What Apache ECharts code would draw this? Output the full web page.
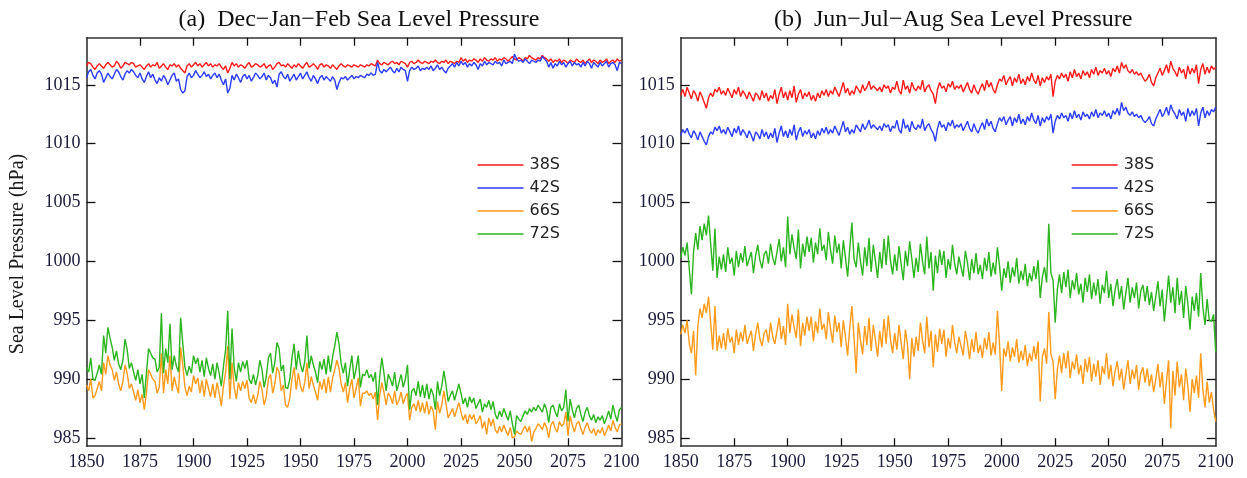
<!DOCTYPE html>
<html>
<head>
<meta charset="utf-8">
<script src="https://cdn.jsdelivr.net/npm/echarts@6/dist/echarts.min.js"></script>
<style>html,body{margin:0;padding:0;background:#fff}#c{width:1247px;height:478px}</style>
</head>
<body>
<div id="c"></div>
<script>
const FIRST_YEAR = 1850, LAST_YEAR = 2100;
const xTicks = [1850, 1875, 1900, 1925, 1950, 1975, 2000, 2025, 2050, 2075, 2100];
const yTicks = [985, 990, 995, 1000, 1005, 1010, 1015];
const seriesNames = ['38S', '42S', '66S', '72S'];
const panelTitles = ['(a)  Dec\u2212Jan\u2212Feb Sea Level Pressure', '(b)  Jun\u2212Jul\u2212Aug Sea Level Pressure'];
const yAxisTitle = 'Sea Level Pressure (hPa)';

// DJF
const djf38S = [
1016.6,1016.9,1016.8,1016.5,1016.3,1016.6,1016.8,1016.6,1016.4,1016.7,
1016.9,1016.7,1016.5,1016.6,1017.0,1016.8,1016.4,1016.6,1016.9,1016.8,
1016.7,1016.9,1016.8,1016.5,1016.6,1016.7,1016.5,1016.3,1016.6,1016.8,
1016.5,1016.7,1016.6,1016.9,1016.4,1016.6,1016.8,1016.5,1016.3,1016.7,
1016.6,1016.8,1016.5,1016.7,1016.4,1016.2,1016.0,1016.6,1016.8,1016.5,
1016.7,1016.9,1016.6,1016.8,1016.5,1016.7,1016.9,1016.6,1016.8,1016.5,
1016.7,1016.6,1016.8,1016.5,1016.3,1016.6,1016.0,1016.4,1016.9,1016.6,
1016.8,1016.5,1016.7,1016.6,1016.4,1016.7,1016.9,1016.5,1016.6,1016.8,
1016.7,1016.5,1016.6,1016.8,1016.4,1016.6,1016.7,1016.3,1016.5,1016.8,
1016.9,1016.6,1016.7,1016.5,1016.8,1016.6,1016.4,1016.7,1016.5,1016.8,
1016.6,1016.4,1016.7,1016.9,1016.5,1016.6,1016.8,1016.6,1016.3,1016.7,
1016.8,1016.5,1016.7,1016.6,1016.4,1016.7,1016.5,1016.3,1016.6,1016.8,
1016.6,1016.5,1016.7,1016.6,1016.5,1016.7,1016.6,1016.5,1016.7,1016.6,
1016.5,1016.7,1016.6,1016.8,1016.7,1016.6,1017.1,1016.8,1016.7,1016.9,
1016.8,1016.7,1016.9,1017.0,1016.8,1016.9,1016.7,1017.0,1016.9,1016.8,
1016.5,1016.9,1017.0,1016.8,1016.9,1017.1,1016.9,1016.8,1017.0,1016.9,
1016.8,1017.0,1016.9,1017.1,1016.9,1016.8,1017.0,1016.9,1017.1,1016.8,
1017.0,1016.9,1016.8,1017.0,1016.9,1017.3,1017.0,1017.2,1016.9,1017.1,
1017.0,1017.2,1017.1,1016.9,1017.2,1017.0,1017.3,1017.1,1017.0,1017.2,
1017.1,1017.3,1017.0,1017.2,1017.1,1017.3,1017.2,1017.0,1017.2,1017.4,
1017.2,1017.1,1017.3,1017.2,1017.0,1017.3,1017.2,1017.5,1017.3,1017.2,
1017.1,1017.3,1017.2,1017.5,1017.3,1017.2,1017.0,1017.2,1016.9,1017.1,
1017.0,1017.2,1016.9,1017.1,1017.0,1016.8,1017.1,1017.0,1016.9,1017.2,
1017.0,1016.9,1017.1,1016.8,1017.0,1017.2,1016.9,1017.1,1017.0,1016.8,
1017.1,1016.9,1017.0,1017.2,1016.8,1017.0,1017.1,1016.9,1017.2,1017.0,
1017.1];
const djf42S = [
1015.6,1016.1,1016.3,1015.8,1015.5,1016.0,1016.2,1015.9,1015.2,1015.6,
1016.0,1015.7,1015.5,1015.9,1016.3,1016.1,1015.7,1015.4,1015.9,1016.2,
1016.0,1016.3,1016.1,1015.8,1015.6,1016.0,1015.5,1015.2,1015.7,1016.1,
1015.6,1015.9,1015.4,1015.1,1015.6,1015.3,1015.8,1015.5,1015.0,1015.4,
1015.8,1016.0,1015.3,1015.5,1014.6,1014.3,1014.5,1015.7,1016.0,1015.6,
1015.8,1016.2,1015.9,1015.6,1015.8,1016.1,1015.7,1015.9,1015.5,1015.8,
1016.0,1015.6,1015.9,1015.4,1015.0,1015.5,1014.3,1014.7,1015.8,1015.4,
1015.9,1015.6,1015.2,1015.7,1015.9,1015.5,1015.8,1015.3,1015.6,1016.0,
1015.8,1015.5,1015.7,1016.0,1015.4,1015.8,1015.6,1015.1,1015.4,1014.8,
1015.9,1016.1,1015.7,1015.5,1015.9,1015.3,1015.6,1015.9,1015.4,1015.7,
1016.0,1015.5,1015.8,1016.1,1015.6,1015.3,1015.8,1015.5,1015.1,1015.6,
1015.8,1015.4,1015.7,1015.5,1015.3,1015.7,1015.4,1014.6,1015.2,1015.6,
1015.5,1015.7,1015.4,1015.6,1015.8,1015.5,1015.7,1015.6,1015.8,1015.7,
1015.6,1015.9,1015.8,1016.0,1015.8,1015.9,1016.9,1016.2,1016.0,1016.3,
1016.1,1016.3,1016.5,1016.2,1016.0,1016.4,1016.1,1016.5,1016.3,1016.2,
1015.3,1016.2,1016.5,1016.3,1016.4,1016.6,1016.2,1016.4,1016.3,1016.5,
1016.3,1016.6,1016.2,1016.4,1016.7,1016.3,1016.5,1016.2,1016.0,1016.4,
1016.6,1016.8,1016.5,1016.9,1016.6,1017.0,1016.7,1016.9,1016.5,1016.8,
1016.6,1016.9,1016.7,1016.3,1016.8,1016.6,1017.0,1016.7,1016.9,1016.8,
1016.7,1017.0,1016.8,1016.9,1016.6,1017.1,1016.8,1016.9,1017.0,1016.8,
1017.6,1017.2,1017.0,1017.1,1016.9,1017.2,1017.0,1016.8,1017.1,1017.0,
1016.9,1017.1,1017.0,1017.4,1017.2,1017.0,1016.5,1016.9,1016.4,1016.8,
1016.6,1017.0,1016.7,1016.9,1016.5,1016.8,1017.0,1016.6,1016.9,1016.7,
1016.8,1016.5,1016.9,1016.6,1017.0,1016.8,1016.4,1016.9,1016.7,1016.5,
1016.9,1016.6,1016.8,1017.0,1016.5,1016.8,1016.9,1016.7,1016.2,1016.9,
1016.8];
const djf66S = [
989.5,989.0,990.0,988.4,988.6,989.2,989.8,989.0,991.4,990.4,
992.0,991.2,990.8,989.9,990.6,989.6,989.0,989.8,991.2,990.5,
989.2,989.6,988.9,988.2,989.1,988.0,988.7,987.4,988.8,990.8,
990.4,990.0,989.8,988.8,989.3,992.2,988.8,990.8,989.6,992.0,
989.0,990.2,989.4,988.8,992.7,991.2,989.3,988.6,989.4,988.9,
990.3,989.6,990.1,988.8,989.9,988.5,990.0,989.2,988.5,989.6,
988.4,989.7,988.8,987.7,989.4,990.6,992.8,988.3,991.4,989.3,
988.3,989.7,989.0,989.8,989.2,989.9,988.4,988.0,988.7,987.9,
988.6,989.8,989.1,987.8,988.5,990.0,990.4,988.8,989.6,991.0,
990.6,989.0,989.5,987.8,987.6,988.4,990.0,991.0,989.1,990.5,
989.4,988.9,989.7,991.4,989.2,990.2,989.5,988.9,988.2,989.8,
989.1,990.0,988.8,990.2,988.9,990.1,990.8,991.6,990.9,989.6,
988.9,989.7,988.0,989.2,990.0,988.4,989.2,990.1,987.7,988.8,
988.8,989.0,988.6,988.8,988.3,988.9,986.5,988.6,989.7,988.9,
987.8,988.8,988.5,987.9,989.0,987.8,988.2,988.9,987.9,988.5,
988.8,986.5,987.6,987.9,987.3,988.2,987.2,988.0,987.1,988.1,
987.0,987.7,987.3,985.7,988.1,987.1,987.8,989.0,987.9,986.7,
987.1,987.5,986.8,987.4,988.0,987.2,986.5,987.0,986.2,987.0,
986.6,987.0,986.2,986.5,986.9,985.8,986.4,985.3,986.7,986.0,
986.6,985.7,985.4,986.0,985.5,986.1,985.6,985.2,985.9,985.0,
985.1,985.6,985.4,985.3,985.7,986.0,985.5,986.0,984.7,985.5,
985.8,986.2,986.0,985.7,986.3,985.9,985.0,986.1,986.4,985.8,
985.5,986.4,986.0,986.2,987.2,985.2,986.9,986.1,985.5,986.2,
986.4,985.8,985.3,985.9,986.3,985.7,985.4,985.8,985.2,985.7,
985.4,985.9,985.2,985.6,986.1,985.6,986.5,985.9,985.5,986.1,
986.2];
const djf72S = [
991.0,990.6,991.8,990.0,989.9,990.5,991.2,990.4,993.7,992.2,
994.4,993.5,992.7,991.6,992.4,991.3,990.8,991.6,993.4,992.5,
990.9,991.4,990.6,989.9,990.8,989.6,990.4,988.4,990.5,992.6,
992.2,991.8,991.7,990.6,991.0,995.6,990.5,992.6,991.4,994.7,
990.8,992.0,991.1,990.6,995.2,993.0,991.0,990.3,991.1,990.5,
992.0,991.3,991.8,990.6,991.6,990.2,991.8,990.9,990.3,991.3,
990.0,991.4,990.5,989.4,991.1,992.5,995.8,990.0,994.3,991.0,
989.8,991.4,990.6,991.5,990.9,991.6,990.0,989.6,990.4,989.5,
990.3,991.6,990.8,989.3,990.2,991.8,992.2,990.5,991.4,993.1,
992.6,990.7,991.2,989.3,989.2,990.0,991.8,993.0,990.8,992.4,
991.2,990.6,991.5,993.7,990.9,992.0,991.2,990.6,989.7,991.5,
990.8,991.7,990.4,992.0,990.6,991.9,992.8,994.0,993.0,991.3,
990.5,991.4,989.4,990.8,992.0,990.0,990.9,992.0,989.3,990.4,
990.3,990.8,990.1,990.4,989.8,990.6,987.8,990.2,991.8,990.5,
989.0,990.4,990.0,989.4,990.6,989.0,989.7,990.4,989.3,990.0,
991.2,987.4,989.0,989.2,988.6,989.8,988.5,989.5,988.4,989.6,
988.3,989.2,988.7,987.4,989.8,988.6,989.4,990.7,989.5,988.1,
988.6,989.0,988.2,988.9,989.6,988.8,987.9,988.4,987.6,988.5,
988.0,988.4,987.5,987.9,988.3,987.2,987.9,987.6,988.2,987.4,
988.1,987.0,986.6,987.3,986.8,987.5,987.0,986.5,987.3,986.2,
985.3,986.9,986.6,986.4,986.9,987.3,987.0,987.5,987.2,987.6,
987.3,987.8,987.5,987.2,987.9,987.4,986.3,987.6,987.8,987.2,
986.8,987.9,987.3,987.6,989.1,986.4,988.3,987.4,986.7,987.5,
987.8,987.0,986.4,987.2,987.6,986.9,986.5,987.0,986.3,986.8,
986.5,986.9,986.2,986.7,987.3,986.6,987.8,987.0,986.4,987.4,
987.6];

// JJA
const jja38S = [
1014.1,1014.6,1014.0,1014.8,1014.3,1013.8,1014.5,1014.2,1013.6,1014.4,
1014.0,1013.5,1013.0,1013.9,1014.3,1014.0,1014.6,1014.4,1014.8,1014.2,
1014.5,1014.1,1014.7,1014.3,1013.9,1014.6,1014.2,1014.8,1014.0,1014.5,
1014.2,1013.8,1014.4,1014.0,1013.6,1014.3,1014.1,1013.7,1014.5,1013.9,
1014.3,1013.6,1014.1,1013.8,1014.6,1013.4,1014.2,1014.8,1013.9,1014.4,
1013.7,1014.5,1013.9,1014.9,1013.5,1014.2,1014.6,1013.8,1014.3,1014.0,
1014.4,1013.7,1014.1,1013.6,1014.3,1013.9,1014.5,1014.1,1014.6,1014.0,
1014.5,1014.2,1014.8,1014.4,1014.0,1014.6,1015.2,1014.3,1014.7,1014.1,
1014.5,1014.2,1014.9,1014.6,1014.3,1015.0,1014.5,1014.8,1015.3,1014.6,
1014.9,1014.7,1014.5,1014.8,1014.4,1015.0,1014.7,1014.9,1014.3,1014.8,
1014.6,1015.3,1014.5,1014.2,1015.4,1014.6,1014.9,1014.3,1015.2,1014.7,
1014.5,1014.9,1014.6,1015.4,1014.4,1014.8,1015.0,1014.5,1014.2,1013.4,
1014.6,1015.2,1014.7,1014.9,1014.4,1015.1,1014.8,1015.3,1014.6,1014.9,
1014.7,1015.0,1014.4,1014.8,1015.2,1014.6,1014.3,1015.0,1014.5,1014.2,
1014.7,1015.1,1014.5,1015.4,1014.8,1015.2,1014.6,1014.3,1015.0,1015.5,
1015.3,1015.8,1015.0,1015.4,1015.7,1014.9,1015.6,1015.2,1015.9,1015.1,
1015.5,1015.0,1015.7,1015.3,1016.0,1015.4,1015.1,1015.8,1014.9,1015.6,
1015.2,1015.7,1015.4,1015.9,1014.0,1015.3,1015.8,1015.5,1016.0,1015.6,
1015.9,1015.3,1016.1,1015.6,1016.3,1015.7,1016.0,1015.5,1016.2,1015.8,
1016.1,1015.6,1016.3,1015.9,1016.5,1015.8,1016.2,1016.0,1016.4,1015.9,
1016.2,1015.7,1016.4,1016.1,1016.6,1016.0,1016.9,1016.4,1016.7,1016.2,
1016.0,1016.3,1015.9,1016.1,1015.8,1016.0,1015.6,1015.3,1015.5,1015.9,
1015.2,1014.9,1015.6,1016.0,1016.4,1015.8,1016.2,1016.7,1016.0,1017.0,
1016.4,1016.1,1015.7,1016.5,1016.0,1016.3,1015.5,1016.6,1015.9,1016.4,
1016.0,1016.7,1015.1,1016.3,1016.8,1015.9,1016.5,1016.0,1016.6,1016.3,
1016.5];
const jja42S = [
1010.7,1011.2,1010.9,1011.3,1010.8,1010.5,1011.1,1010.8,1010.3,1011.0,
1010.6,1010.2,1009.9,1010.6,1011.0,1010.8,1011.4,1011.1,1011.5,1010.9,
1011.2,1010.8,1011.4,1011.0,1010.6,1011.3,1010.9,1011.5,1010.7,1011.2,
1010.9,1010.5,1011.1,1010.7,1010.2,1011.0,1010.8,1010.4,1011.2,1010.6,
1011.0,1010.4,1010.9,1010.5,1011.3,1010.1,1010.9,1011.5,1010.6,1011.1,
1010.5,1011.2,1010.7,1011.6,1010.3,1011.0,1011.4,1010.6,1011.1,1010.8,
1011.2,1010.5,1010.9,1010.4,1011.1,1010.7,1011.3,1010.9,1011.4,1010.8,
1011.2,1010.9,1011.5,1011.1,1010.7,1011.3,1011.9,1011.0,1011.4,1010.8,
1011.2,1010.9,1011.6,1011.3,1011.0,1011.7,1011.2,1011.5,1012.0,1011.3,
1011.6,1011.4,1011.2,1011.5,1011.1,1011.7,1011.4,1011.6,1011.0,1011.5,
1011.3,1012.0,1011.2,1010.9,1012.1,1011.3,1011.6,1011.0,1011.9,1011.4,
1011.2,1011.6,1011.3,1012.1,1011.1,1011.5,1011.7,1011.2,1010.9,1010.2,
1011.3,1011.9,1011.4,1011.6,1011.1,1011.8,1011.5,1012.0,1011.3,1011.6,
1011.4,1011.7,1011.1,1011.5,1011.9,1011.3,1011.0,1011.7,1011.2,1010.9,
1011.4,1011.8,1011.2,1012.1,1011.5,1011.9,1011.3,1011.0,1011.7,1012.2,
1011.9,1012.3,1011.6,1012.0,1012.3,1011.5,1012.2,1011.8,1012.5,1011.7,
1012.1,1011.6,1012.3,1011.9,1012.6,1012.0,1011.7,1012.4,1011.5,1012.2,
1011.8,1012.3,1012.0,1012.5,1010.9,1011.9,1012.4,1012.1,1012.6,1012.2,
1012.4,1011.9,1012.6,1012.1,1012.8,1012.2,1012.5,1012.0,1012.7,1012.3,
1012.5,1012.1,1012.7,1012.3,1012.9,1012.2,1012.6,1012.4,1012.8,1012.3,
1012.6,1012.1,1012.8,1012.5,1013.0,1012.4,1013.5,1012.8,1013.1,1012.6,
1012.4,1012.7,1012.3,1012.5,1012.2,1012.4,1012.0,1011.8,1012.0,1012.3,
1011.7,1011.5,1012.1,1012.5,1012.9,1012.3,1012.6,1013.1,1012.4,1013.3,
1012.8,1012.5,1012.1,1012.9,1012.4,1012.7,1011.9,1013.0,1012.3,1012.8,
1012.4,1013.0,1011.5,1012.6,1013.1,1012.2,1012.8,1012.4,1012.9,1012.7,
1013.1];
const jja66S = [
993.8,994.6,993.9,995.0,993.0,992.2,994.1,990.3,994.5,996.0,
995.2,996.4,995.6,997.0,994.8,992.5,996.2,992.4,993.7,992.6,
993.9,992.5,994.3,993.1,993.6,992.2,994.2,992.9,994.0,993.2,
994.6,993.0,993.6,994.1,992.4,993.8,994.8,993.4,992.8,993.9,
994.2,993.1,994.8,993.6,993.0,994.1,995.2,993.4,994.5,992.9,
996.4,993.9,995.5,994.4,993.5,995.9,992.8,994.8,993.7,995.3,
994.1,995.3,993.2,994.9,993.9,996.0,994.2,994.7,993.4,995.7,
994.3,993.1,995.4,994.0,994.8,992.7,995.0,993.6,992.0,994.4,
996.2,993.5,990.5,994.8,993.3,992.1,994.5,992.9,995.2,992.4,
994.6,993.3,991.9,994.1,992.7,995.1,993.0,995.4,993.4,992.2,
993.9,992.5,994.6,993.1,991.7,994.2,992.9,990.0,993.5,991.9,
993.6,992.4,994.8,993.3,992.2,995.3,992.7,994.1,991.0,993.8,
992.3,994.3,993.0,994.2,991.9,993.5,992.6,994.6,993.1,992.2,
993.6,992.8,992.0,994.1,993.1,991.7,993.4,992.3,994.0,992.2,
992.9,991.8,993.5,992.5,994.0,992.0,993.1,992.1,995.8,992.9,
989.0,992.6,991.9,993.2,991.5,992.7,991.9,993.4,991.4,992.4,
991.6,992.9,991.1,992.2,991.5,992.8,991.7,993.2,988.1,991.9,
992.6,991.3,995.7,992.1,991.5,988.3,990.8,992.0,990.5,992.2,
990.9,992.4,990.1,991.5,990.8,992.1,990.4,991.2,989.6,991.7,
990.6,991.9,989.8,991.3,990.2,991.6,989.5,991.1,990.4,992.2,
990.0,991.2,989.4,990.7,991.5,989.9,990.9,989.1,990.4,991.6,
989.6,990.8,990.0,991.2,989.1,990.5,991.0,989.7,990.9,989.4,
990.4,988.9,990.0,991.3,989.3,990.6,987.9,989.8,991.6,985.8,
990.7,988.6,991.5,989.3,990.4,988.2,990.9,989.4,987.2,990.0,
988.8,990.3,988.4,992.2,989.1,987.6,989.8,988.0,988.9,987.4,
986.4];
const jja72S = [
1000.3,1001.2,1000.5,1001.6,999.4,997.2,1000.8,1002.4,1001.0,1003.0,
1001.8,1003.2,1002.2,1003.9,1001.5,999.2,1002.8,998.6,1000.4,999.3,
1000.6,999.1,1001.2,999.8,1000.3,998.8,1000.9,999.5,1000.7,999.9,
1001.3,999.6,1000.2,1000.8,999.0,1000.5,1001.4,1000.1,999.4,1000.6,
1000.9,999.8,1001.5,1000.3,999.7,1000.8,1001.9,1000.0,1001.2,999.5,
1003.8,1000.6,1002.3,1001.1,1000.2,1002.7,999.4,1001.5,1000.4,1002.1,
1000.8,1002.0,999.9,1001.6,1000.6,1002.8,1000.9,1001.4,1000.1,1002.5,
1001.0,999.8,1002.2,1000.7,1001.5,999.4,1001.8,1000.3,998.7,1001.1,
1003.3,1000.2,999.5,1001.6,1000.0,998.8,1001.2,999.6,1002.0,999.1,
1001.4,1000.0,998.6,1000.8,999.4,1001.9,999.7,1002.2,1000.1,998.9,
1000.6,999.2,1001.3,999.8,998.4,1000.9,999.6,1001.7,1000.2,998.6,
1000.3,999.1,1001.5,1000.0,998.9,1002.1,999.4,1000.8,997.5,1000.5,
999.0,1001.0,999.7,1000.9,998.6,1000.2,999.3,1001.4,999.8,998.9,
1000.4,999.5,998.7,1000.9,999.9,998.4,1000.2,999.0,1000.7,998.9,
999.7,998.5,1000.3,999.2,1000.8,998.7,999.9,998.9,1001.2,999.6,
997.5,999.4,998.6,1000.0,998.2,999.5,998.7,1000.3,998.1,999.2,
998.4,999.8,997.9,999.0,998.3,999.6,998.5,1000.1,996.9,998.7,
999.5,998.2,1003.2,999.0,998.4,994.8,997.6,998.9,997.3,999.1,
997.8,999.3,996.9,998.4,997.6,999.0,997.2,998.1,996.5,998.6,
997.4,998.9,996.8,998.2,997.1,998.5,996.4,998.0,997.3,999.2,
996.9,998.1,996.2,997.6,998.5,996.8,997.9,995.9,997.3,998.6,
996.5,997.8,996.9,998.2,996.0,997.5,998.0,996.6,997.9,996.3,
997.4,995.8,997.0,998.3,996.2,997.6,994.9,996.8,998.8,996.5,
997.8,995.6,998.6,996.3,997.5,995.2,997.9,996.4,994.2,997.0,
995.8,997.3,995.3,999.0,996.1,994.6,996.8,995.0,994.9,995.5,
992.3];

const colors = { '38S': '#ff1a1a', '42S': '#2a3cff', '66S': '#ff9a1a', '72S': '#2bb51e' };
const panels = [
  { '38S': djf38S, '42S': djf42S, '66S': djf66S, '72S': djf72S },
  { '38S': jja38S, '42S': jja42S, '66S': jja66S, '72S': jja72S }
];

const Y_MIN = 984.3, Y_MAX = 1019.0;
const GRID_W = 535, GRID_TOP = 37.7, GRID_H = 408.5;
const gridLefts = [86.5, 680.7];
const serif = 'Liberation Serif';
const frameColor = '#333';
const labelColor = '#1a1a3a';

function pairs(arr) { return arr.map((v, i) => [FIRST_YEAR + i, v]); }
const plain = v => String(Math.round(v));

const grid = [], xAxis = [], yAxis = [], series = [], title = [], legend = [];
gridLefts.forEach((gl, p) => {
  grid.push({ left: gl, top: GRID_TOP, width: GRID_W, height: GRID_H, containLabel: false });
  title.push({
    text: panelTitles[p], left: gl + GRID_W / 2, top: 3, textAlign: 'center',
    textStyle: { fontFamily: serif, fontSize: 24, fontWeight: 'normal', color: '#111' }
  });
  const innerX = xTicks.slice(1, -1);
  xAxis.push({
    type: 'value', gridIndex: p, min: FIRST_YEAR, max: LAST_YEAR, position: 'bottom',
    axisLine: { show: true, lineStyle: { color: frameColor, width: 1.6 } },
    axisTick: { show: true, inside: true, length: 8, lineStyle: { color: '#111', width: 1.3 }, customValues: innerX },
    axisLabel: { show: true, customValues: xTicks, formatter: plain, fontFamily: serif, fontSize: 18, color: labelColor, margin: 7 },
    splitLine: { show: false }
  });
  xAxis.push({
    type: 'value', gridIndex: p, min: FIRST_YEAR, max: LAST_YEAR, position: 'top',
    axisLine: { show: true, lineStyle: { color: frameColor, width: 1.6 } },
    axisTick: { show: true, inside: true, length: 8, lineStyle: { color: '#111', width: 1.3 }, customValues: innerX },
    axisLabel: { show: false }, splitLine: { show: false }
  });
  yAxis.push({
    type: 'value', gridIndex: p, min: Y_MIN, max: Y_MAX, position: 'left',
    axisLine: { show: true, lineStyle: { color: frameColor, width: 1.6 } },
    axisTick: { show: true, inside: true, length: 9, lineStyle: { color: '#111', width: 1.3 }, customValues: yTicks },
    axisLabel: { show: true, customValues: yTicks, formatter: plain, fontFamily: serif, fontSize: 18, color: labelColor, margin: 6 },
    splitLine: { show: false }
  });
  yAxis.push({
    type: 'value', gridIndex: p, min: Y_MIN, max: Y_MAX, position: 'right',
    axisLine: { show: true, lineStyle: { color: frameColor, width: 1.6 } },
    axisTick: { show: true, inside: true, length: 9, lineStyle: { color: '#111', width: 1.3 }, customValues: yTicks },
    axisLabel: { show: false }, splitLine: { show: false }
  });
  seriesNames.forEach(name => {
    series.push({
      name, type: 'line', xAxisIndex: p * 2, yAxisIndex: p * 2,
      data: pairs(panels[p][name]), showSymbol: false, symbol: 'none',
      lineStyle: { color: colors[name], width: 1.4 }, itemStyle: { color: colors[name] },
      animation: false, z: 2
    });
  });
  legend.push({
    orient: 'vertical', left: gl + 386, top: 151,
    data: seriesNames.map(n => ({ name: n, icon: 'rect', itemStyle: { color: colors[n] } })),
    itemWidth: 46, itemHeight: 1.6, itemGap: 5,
    textStyle: { fontFamily: 'DejaVu Sans', fontSize: 16, color: '#222', lineHeight: 18, padding: [0, 0, 0, 1] },
    selectedMode: false
  });
});

const chart = echarts.init(document.getElementById('c'), null, { renderer: 'canvas' });
chart.setOption({
  animation: false, backgroundColor: '#fff', title, legend, grid, xAxis, yAxis, series,
  graphic: [{
    type: 'text', x: 18, y: 254, rotation: Math.PI / 2,
    style: { text: yAxisTitle, font: '20px "Liberation Serif"', fill: '#1a1a1a', align: 'center', verticalAlign: 'middle' }
  }]
});
</script>
</body>
</html>
